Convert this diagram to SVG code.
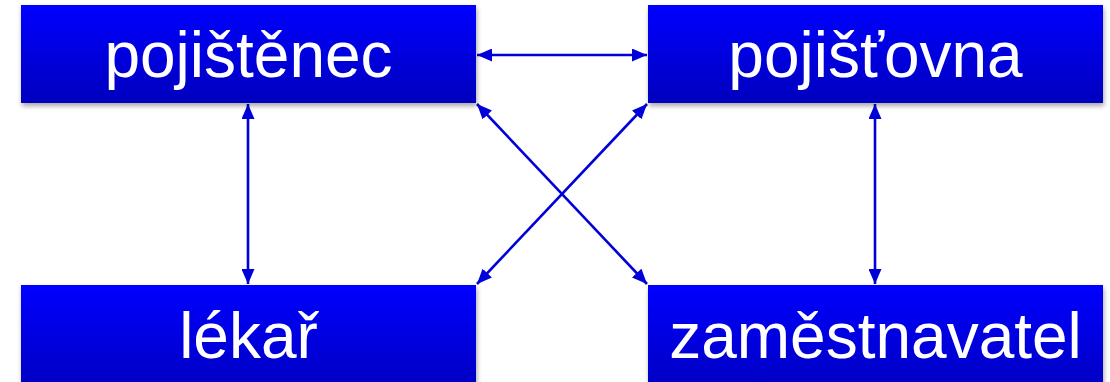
<svg xmlns="http://www.w3.org/2000/svg" width="1110" height="382" viewBox="0 0 1110 382">
<style>
.box{fill:url(#g);filter:url(#sh)}
.t{font-family:"Liberation Sans",Arial,sans-serif;font-size:64px;fill:#fff;text-anchor:middle}
.c{stroke:#0000D8;stroke-width:2.6;fill:none;marker-start:url(#a);marker-end:url(#a)}
</style>
<defs>
<linearGradient id="g" x1="0" y1="0" x2="0" y2="1">
<stop offset="0" stop-color="#0000FF"/>
<stop offset="1" stop-color="#0000BE"/>
</linearGradient>
<filter id="sh" x="-5%" y="-10%" width="115%" height="130%">
<feDropShadow dx="1" dy="3" stdDeviation="2.5" flood-color="#000" flood-opacity="0.35"/>
</filter>
<marker id="a" viewBox="0 0 15 13" refX="15" refY="6.5" markerWidth="15" markerHeight="13" markerUnits="userSpaceOnUse" orient="auto-start-reverse">
<path d="M0,0 L15,6.5 L0,13 Z" fill="#0000D8"/>
</marker>
</defs>
<g id="connectors">
<line class="c" x1="477" y1="55" x2="647" y2="55"/>
<line class="c" x1="248" y1="104" x2="248" y2="284"/>
<line class="c" x1="875" y1="104" x2="875" y2="284"/>
<line class="c" x1="477" y1="104" x2="647" y2="284"/>
<line class="c" x1="647" y1="104" x2="477" y2="284"/>
</g>
<g id="pojistenec">
<rect class="box" x="21" y="5" width="455" height="98"/>
<text class="t" x="248.5" y="77">pojištěnec</text>
</g>
<g id="pojistovna">
<rect class="box" x="648" y="5" width="455" height="98"/>
<text class="t" x="875.5" y="77">pojišťovna</text>
</g>
<g id="lekar">
<rect class="box" x="21" y="285" width="455" height="110"/>
<text class="t" x="248.5" y="358">lékař</text>
</g>
<g id="zamestnavatel">
<rect class="box" x="648" y="285" width="455" height="110"/>
<text class="t" x="875.5" y="358">zaměstnavatel</text>
</g>
</svg>
